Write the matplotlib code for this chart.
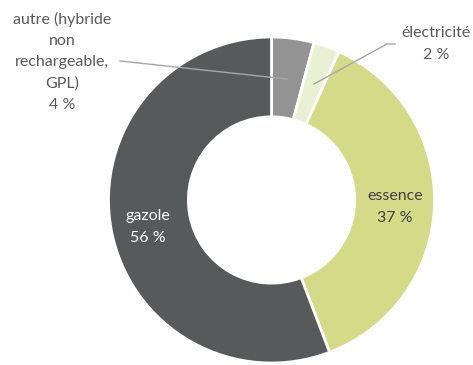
import matplotlib.pyplot as plt

# parts des motorisations
categories = ['autre (hybride\nnon\nrechargeable,\nGPL)', 'électricité', 'essence', 'gazole']
parts = [4.2, 2.6, 37.4, 55.8]
labels_pct = ['4 %', '2 %', '37 %', '56 %']
couleurs = ['#939393', '#eaf0d3', '#d4db88', '#58595b']

plt.rcParams['font.family'] = ['Lato', 'DejaVu Sans']

fig = plt.figure(figsize=(4.73, 3.65), dpi=100)
ax = fig.add_axes([0, 0, 1, 1])

# centre du donut en pixels (271.5, 200), rayon 163 px
cx, cy, r = 271.5, 200, 163


def px(x, y):
    return (x - cx) / r, (cy - y) / r


ax.pie(parts, colors=couleurs, startangle=90, counterclock=False, radius=1,
       wedgeprops=dict(width=0.49, edgecolor='white', linewidth=2))

ax.set_xlim(-cx / r, (473 - cx) / r)
ax.set_ylim(-(365 - cy) / r, cy / r)
ax.set_aspect('auto')
ax.axis('off')

fs = 11.5
ls = 1.65
txt_gris = '#595959'

# étiquettes extérieures
ax.text(*px(62, 62), categories[0] + '\n' + labels_pct[0], ha='center', va='center',
        fontsize=fs, color=txt_gris, linespacing=ls)
ax.text(*px(436, 44), categories[1] + '\n' + labels_pct[1], ha='center', va='center',
        fontsize=fs, color=txt_gris, linespacing=ls)

# lignes de rappel
ax.plot(*zip(px(120, 61), px(287, 79)), color='#a6a6a6', lw=1)
ax.plot(*zip(px(395, 44), px(387, 44), px(314, 84)), color='#a6a6a6', lw=1)

# étiquettes intérieures
ax.text(*px(395, 207), categories[2] + '\n' + labels_pct[2], ha='center', va='center',
        fontsize=fs, color='#404040', linespacing=ls)
ax.text(*px(148, 227), categories[3] + '\n' + labels_pct[3], ha='center', va='center',
        fontsize=fs, color='white', linespacing=ls)

fig.savefig('out.png', dpi=100)
